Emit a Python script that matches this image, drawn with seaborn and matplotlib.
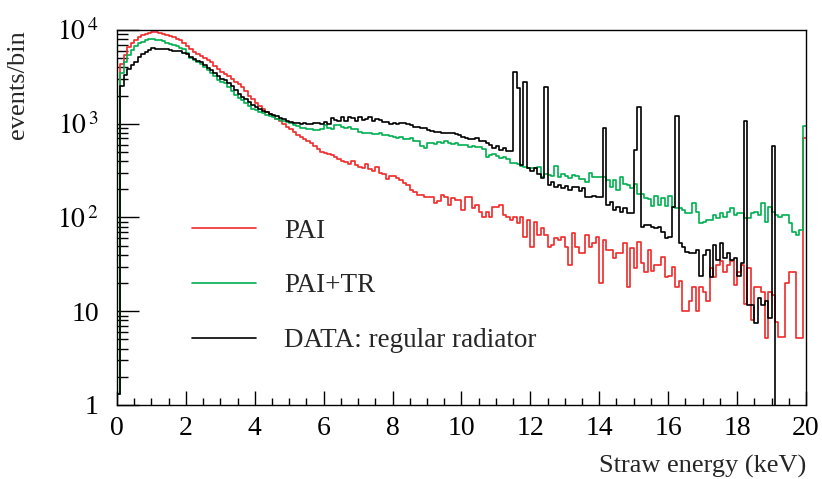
import numpy as np
import pandas as pd
import matplotlib
matplotlib.use("Agg")
import matplotlib.pyplot as plt
from matplotlib.ticker import MultipleLocator, LogLocator, FixedLocator, NullFormatter
import seaborn as sns

# ===================== data (0.1 keV bins, 0..20 keV) =====================

edges = np.round(np.arange(0, 20.01, 0.1), 1)
centers = (edges[:-1] + edges[1:]) / 2

pai = [
    1.3, 4300, 5400, 6600, 7300, 7900, 8500, 8800, 9100, 9400,
    9600, 9500, 9300, 9100, 8900, 8600, 8400, 8100, 7800, 7300,
    6700, 6200, 5800, 5500, 5300, 5000, 4800, 4500, 4100, 3800,
    3600, 3400, 3200, 3000, 2800, 2650, 2450, 2250, 2000, 1850,
    1650, 1550, 1450, 1350, 1280, 1200, 1120, 1060, 1000, 930,
    880, 820, 760, 720, 680, 650, 620, 580, 540, 500,
    490, 470, 460, 445, 420, 400, 390, 375, 400, 360,
    345, 340, 370, 330, 315, 345, 300, 290, 255, 275,
    280, 265, 250, 235, 220, 195, 185, 175, 175, 165,
    165, 165, 143, 150, 175, 165, 136, 160, 155, 155,
    120, 165, 165, 125, 135, 115, 100, 115, 102, 130,
    130, 135, 106, 100, 95, 100, 87, 100, 62, 95,
    48, 90, 65, 77, 65, 48, 51, 60, 58, 62,
    48, 31, 68, 48, 42, 42, 65, 48, 53, 62,
    20, 58, 45, 45, 37, 42, 42, 53, 18, 47,
    29, 55, 33, 26, 45, 27, 31, 31, 38, 23,
    24, 30, 18, 21, 10, 10, 13, 18, 10, 18,
    16, 13, 29, 23, 31, 34, 26, 31, 34, 19,
    26, 31, 12, 29, 8, 18, 18, 16, 5.2, 16,
    15, 7.7, 5.3, 5.3, 20, 26, 26, 5.2, 5.2, 700,
]

pai_tr = [
    1.3, 3500, 4500, 5400, 6100, 6700, 7200, 7500, 7800, 8000,
    8000, 7900, 7800, 7600, 7300, 7100, 6900, 6700, 6500, 6200,
    5700, 5000, 4800, 4500, 4300, 4000, 3750, 3500, 3200, 2950,
    2800, 2700, 2450, 2250, 2050, 1900, 1800, 1650, 1550, 1450,
    1400, 1350, 1300, 1250, 1200, 1180, 1120, 1100, 1060, 1040,
    1020, 980, 940, 910, 900, 880, 870, 860, 860, 880,
    960, 900, 880, 960, 970, 930, 900, 920, 880, 870,
    820, 800, 790, 800, 780, 770, 790, 760, 750, 740,
    720, 710, 720, 690, 680, 700, 660, 650, 580, 550,
    620, 620, 610, 640, 620, 660, 620, 610, 620, 600,
    600, 590, 560, 580, 560, 570, 540, 440, 460, 470,
    455, 430, 440, 425, 380, 385, 370, 350, 345, 340,
    340, 335, 345, 270, 290, 285, 280, 355, 270, 290,
    280, 265, 285, 275, 260, 255, 240, 300, 270, 270,
    270, 270, 250, 210, 250, 195, 270, 230, 220, 205,
    230, 180, 180, 160, 158, 133, 170, 135, 160, 133,
    170, 130, 125, 125, 120, 112, 112, 142, 115, 87,
    90, 94, 94, 106, 98, 112, 100, 115, 125, 106,
    112, 112, 98, 98, 112, 115, 106, 142, 90, 130,
    115, 106, 100, 106, 106, 87, 70, 65, 73, 950,
]

data_regular = [
    1.3, 2500, 3300, 3800, 4200, 4600, 5200, 5500, 5800, 6100,
    6400, 6300, 6300, 6200, 6200, 6100, 6000, 6000, 5900, 5700,
    5500, 5100, 4900, 4700, 4500, 4200, 3900, 3700, 3450, 3200,
    3000, 2900, 2700, 2500, 2300, 2100, 1950, 1850, 1700, 1600,
    1500, 1450, 1380, 1330, 1280, 1250, 1200, 1160, 1120, 1080,
    1050, 1030, 1010, 1000, 1020, 990, 1000, 1010, 1020, 1000,
    1050, 1000, 1160, 1100, 1080, 1180, 1060, 1170, 1140, 1080,
    1180, 1100, 1130, 1170, 1080, 1120, 1090, 1040, 1050, 1000,
    1020, 1000, 1010, 1030, 990, 960, 920, 930, 900, 900,
    860, 840, 820, 810, 790, 800, 800, 790, 780, 760,
    720, 700, 690, 680, 700, 650, 660, 630, 590, 550,
    575, 520, 550, 515, 515, 3600, 2400, 360, 2800, 340,
    310, 340, 290, 265, 2450, 220, 240, 210, 220, 205,
    215, 195, 210, 210, 190, 205, 165, 165, 170, 165,
    165, 900, 135, 145, 120, 130, 115, 125, 112, 112,
    525, 1500, 80, 83, 83, 80, 77, 80, 70, 60,
    62, 130, 1200, 53, 48, 43, 42, 42, 45, 24,
    40, 45, 23, 51, 35, 53, 37, 42, 35, 37,
    24, 33, 1060, 11.6, 11.6, 7.5, 14, 11.6, 13, 8.5,
    580, 0, 0, 0, 0, 0, 0, 0, 0, 0,
]

series_labels = ["PAI", "PAI+TR", "DATA: regular radiator"]
series_colors = ["#f02a2a", "#00b050", "#000000"]

# ===================== style =====================

sns.set_style("ticks")
plt.rcParams["font.family"] = ["Liberation Serif", "DejaVu Serif"]
plt.rcParams["mathtext.fontset"] = "stix"

fig = plt.figure(figsize=(8.22, 4.79), dpi=100)
ax = fig.add_axes([0.1423, 0.1545, 0.8382, 0.7829])

for vals, lab, col in zip([pai, pai_tr, data_regular], series_labels, series_colors):
    df = pd.DataFrame({
        "energy": centers,
        # zero bins pushed below the axis floor so the line drops out of view
        "count": np.clip(np.array(vals, dtype=float), 0.05, None),
    })
    sns.histplot(data=df, x="energy", weights="count", binwidth=0.1, binrange=(0, 20),
                 element="step", fill=False, color=col, linewidth=1.2, ax=ax, label=lab)

ax.set_yscale("log")
ax.set_xlim(0, 20)
ax.set_ylim(1, 1e4)

# ---- ticks ----
ax.xaxis.set_major_locator(MultipleLocator(2))
ax.xaxis.set_minor_locator(MultipleLocator(0.5))
ax.yaxis.set_major_locator(FixedLocator([1, 10, 100, 1000, 10000]))
ax.yaxis.set_minor_locator(LogLocator(base=10, subs=np.arange(2, 10)))
ax.yaxis.set_minor_formatter(NullFormatter())
ax.set_yticklabels(["1", "10", r"$10^{\,2}$", r"$10^{\,3}$", r"$10^{\,4}$"])

ax.tick_params(axis="both", which="both", direction="in", top=False, right=False,
               labelsize=20, colors="black")
ax.tick_params(axis="x", which="major", length=10, width=1, pad=8)
ax.tick_params(axis="x", which="minor", length=5, width=1)
ax.tick_params(axis="y", which="major", length=16, width=1, pad=13)
ax.tick_params(axis="y", which="minor", length=8, width=1)

for s in ax.spines.values():
    s.set_visible(True)
    s.set_color("black")
    s.set_linewidth(1.0)

ax.set_xlabel("Straw energy (keV)", fontsize=19, loc="right", labelpad=10)
ax.set_ylabel("events/bin", fontsize=19, loc="top", labelpad=20)

leg = ax.legend(loc="upper left", bbox_to_anchor=(0.109, 0.497), frameon=False,
                fontsize=19.5, handlelength=2.35, handletextpad=1.05, labelspacing=1.1,
                borderpad=0, borderaxespad=0)
for h in leg.get_lines():
    h.set_linewidth(1.2)

fig.savefig("out.png", dpi=100)
